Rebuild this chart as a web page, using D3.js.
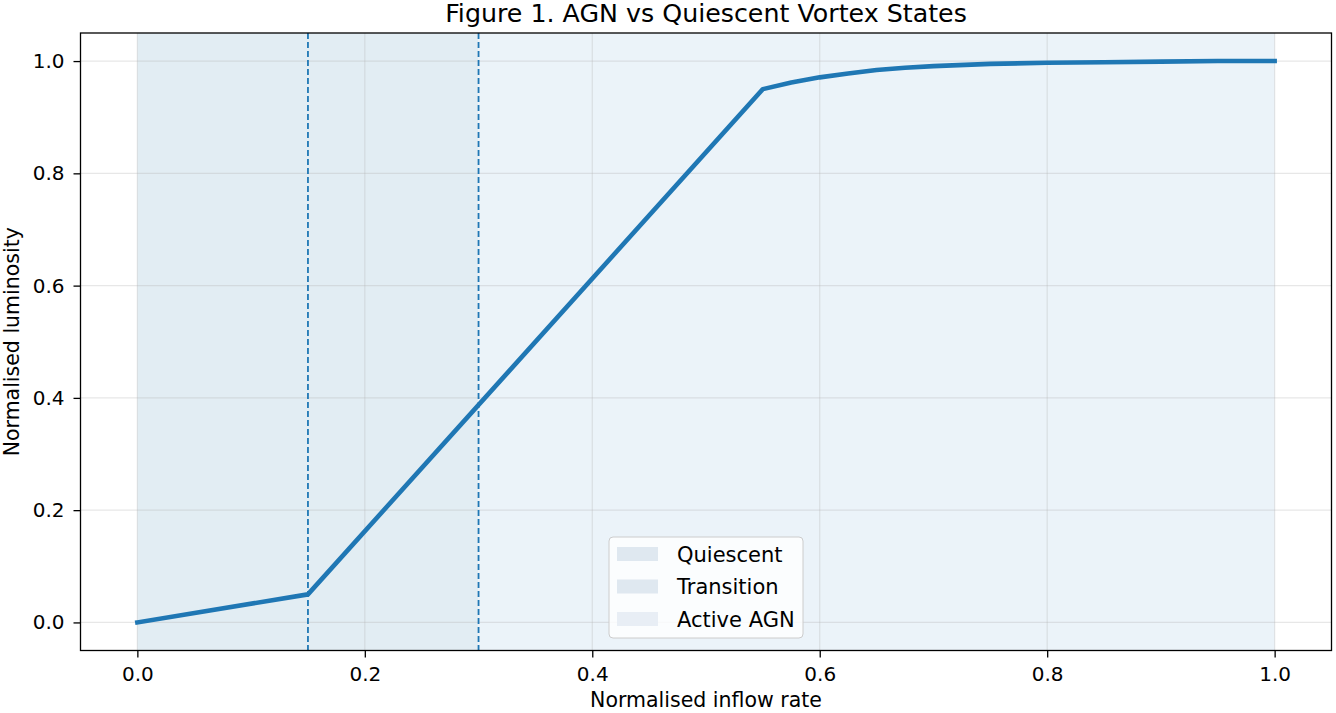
<!DOCTYPE html>
<html>
<head>
<meta charset="utf-8">
<script src="https://cdn.jsdelivr.net/npm/d3@7"></script>
<style>
  body { margin: 0; background: #fff; }
  svg { font-family: "DejaVu Sans", sans-serif; }
</style>
</head>
<body>
<svg id="chart" width="1336" height="713"></svg>
<script>
// inflow rate vs luminosity
const inflow = [0, 0.15, 0.55, 0.575, 0.6, 0.625, 0.65, 0.675, 0.7, 0.75, 0.8, 0.85, 0.9, 0.95, 1.0];
const luminosity = [0, 0.05, 0.95, 0.962, 0.971, 0.978, 0.984, 0.988, 0.991, 0.995, 0.997, 0.998, 0.999, 1.0, 1.0];

const regionNames = ["Quiescent", "Transition", "Active AGN"];
const regionStart = [0, 0.15, 0.3];
const regionEnd = [0.15, 0.3, 1.0];
const thresholds = [0.15, 0.3];

const xTicks = [0, 0.2, 0.4, 0.6, 0.8, 1.0];
const yTicks = [0, 0.2, 0.4, 0.6, 0.8, 1.0];

const regionFill = ["#e2edf3", "#e2edf3", "#ebf3f9"];
const legendFill = ["#dfe8f0", "#dfe8f0", "#e8eef5"];
const blue = "#1f77b4";

const svg = d3.select("#chart");
const margin = {top: 33, right: 4.5, bottom: 62.5, left: 80.5};
const width = 1336 - margin.left - margin.right;
const height = 713 - margin.top - margin.bottom;

const x = d3.scaleLinear().domain([-0.05, 1.05]).range([0, width]);
const y = d3.scaleLinear().domain([-0.05, 1.05]).range([height, 0]);

const g = svg.append("g")
  .attr("transform", "translate(" + margin.left + "," + margin.top + ")");

// shaded states
g.selectAll(".region")
  .data(regionNames)
  .enter().append("rect")
    .attr("class", "region")
    .attr("x", (d, i) => x(regionStart[i]))
    .attr("y", 0)
    .attr("width", (d, i) => x(regionEnd[i]) - x(regionStart[i]))
    .attr("height", height)
    .attr("fill", (d, i) => regionFill[i]);

// grid
g.append("g")
  .selectAll("line")
  .data(xTicks)
  .enter().append("line")
    .attr("x1", d => x(d)).attr("x2", d => x(d))
    .attr("y1", 0).attr("y2", height)
    .attr("stroke", "#b0b0b0").attr("stroke-opacity", 0.3).attr("stroke-width", 1.2);

g.append("g")
  .selectAll("line")
  .data(yTicks)
  .enter().append("line")
    .attr("x1", 0).attr("x2", width)
    .attr("y1", d => y(d)).attr("y2", d => y(d))
    .attr("stroke", "#b0b0b0").attr("stroke-opacity", 0.3).attr("stroke-width", 1.2);

// threshold lines
g.selectAll(".thresh")
  .data(thresholds)
  .enter().append("line")
    .attr("class", "thresh")
    .attr("x1", d => x(d)).attr("x2", d => x(d))
    .attr("y1", 0).attr("y2", height)
    .attr("stroke", blue)
    .attr("stroke-width", 1.8)
    .attr("stroke-dasharray", "6,3");

// curve
const line = d3.line()
  .x((d, i) => x(inflow[i]))
  .y(d => y(d));

g.append("path")
  .datum(luminosity)
  .attr("fill", "none")
  .attr("stroke", blue)
  .attr("stroke-width", 4.6)
  .attr("stroke-linejoin", "round")
  .attr("stroke-linecap", "square")
  .attr("d", line);

// axes
const xAxis = g.append("g")
  .attr("transform", "translate(0," + height + ")")
  .call(d3.axisBottom(x).tickValues(xTicks).tickFormat(d3.format(".1f")).tickSizeOuter(0).tickSize(7).tickPadding(9));

const yAxis = g.append("g")
  .call(d3.axisLeft(y).tickValues(yTicks).tickFormat(d3.format(".1f")).tickSizeOuter(0).tickSize(7).tickPadding(9));

[xAxis, yAxis].forEach(a => {
  a.select(".domain").remove();
  a.selectAll(".tick line").attr("stroke", "#000").attr("stroke-width", 1.3);
  a.selectAll(".tick text")
    .attr("fill", "#000")
    .style("font-family", "DejaVu Sans")
    .style("font-size", "20px");
});

// frame
g.append("rect")
  .attr("width", width).attr("height", height)
  .attr("fill", "none")
  .attr("stroke", "#000")
  .attr("stroke-width", 1.3);

// labels
svg.append("text")
  .attr("x", margin.left + width / 2)
  .attr("y", 22)
  .attr("text-anchor", "middle")
  .style("font-size", "25.3px")
  .text("Figure 1. AGN vs Quiescent Vortex States");

svg.append("text")
  .attr("x", margin.left + width / 2)
  .attr("y", 707)
  .attr("text-anchor", "middle")
  .style("font-size", "20.5px")
  .text("Normalised inflow rate");

svg.append("text")
  .attr("transform", "translate(19," + (margin.top + height / 2) + ") rotate(-90)")
  .attr("text-anchor", "middle")
  .style("font-size", "20.5px")
  .text("Normalised luminosity");

// legend
const legend = svg.append("g").attr("transform", "translate(609,537)");
legend.append("rect")
  .attr("width", 194).attr("height", 101)
  .attr("rx", 4)
  .attr("fill", "#fff").attr("fill-opacity", 0.8)
  .attr("stroke", "#cccccc").attr("stroke-width", 1);

const item = legend.selectAll(".item")
  .data(regionNames)
  .enter().append("g")
    .attr("class", "item")
    .attr("transform", (d, i) => "translate(0," + (17 + i * 32.5) + ")");

item.append("rect")
  .attr("x", 8).attr("y", -7)
  .attr("width", 41).attr("height", 14)
  .attr("fill", (d, i) => legendFill[i]);

item.append("text")
  .attr("x", 68).attr("y", 7.5)
  .style("font-size", "21px")
  .text(d => d);
</script>
</body>
</html>
